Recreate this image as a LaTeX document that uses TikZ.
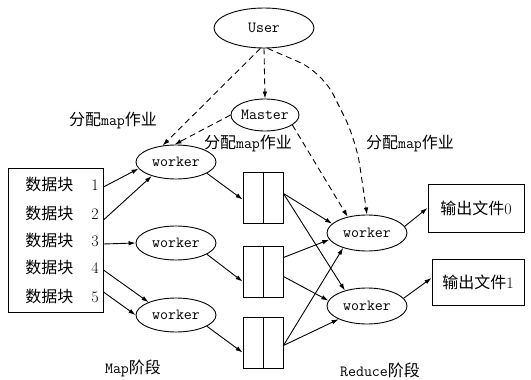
\documentclass[tikz,border=0pt]{standalone}
\usepackage{fontspec}
\newfontfamily\cjk{Noto Sans CJK SC}
\usetikzlibrary{shapes.geometric,arrows.meta,calc}
\newcommand{\zh}[1]{{\cjk\fontsize{16}{18}\selectfont #1}}

\begin{document}
\begin{tikzpicture}[x=1pt,y=-1pt,line width=0.9pt,
    >={Latex[length=7pt,width=4.5pt]},
    every node/.style={font=\fontsize{15.5}{18}\selectfont\ttfamily},
    proc/.style={draw,ellipse,inner sep=0pt,minimum width=80pt,minimum height=34pt},
    buf/.style={draw,rectangle,inner sep=0pt,minimum width=40pt,minimum height=51pt},
    outbox/.style={draw,rectangle,inner sep=0pt,minimum height=48pt},
    job/.style={dash pattern=on 6pt off 4pt,->}]
        \useasboundingbox (0,0) rectangle (531,380);
        % user and master
        \node[draw,ellipse,inner sep=0pt,minimum width=100pt,minimum height=40pt] (user) at (264,28) {User};
        \node[draw,ellipse,inner sep=0pt,minimum width=68pt,minimum height=32pt] (master) at (265,115) {Master};
        % input splits
        \node[draw,inner sep=0pt,minimum width=95pt,minimum height=144pt] (dbox) at (55.5,240) {};
        \node[anchor=west,inner sep=0pt] (d1) at (25,184) {\zh{数据块}\hspace{18pt}{\rmfamily\fontsize{16}{18}\selectfont 1}};
        \node[anchor=west,inner sep=0pt] (d2) at (25,213) {\zh{数据块}\hspace{18pt}{\rmfamily\fontsize{16}{18}\selectfont 2}};
        \node[anchor=west,inner sep=0pt] (d3) at (25,240) {\zh{数据块}\hspace{18pt}{\rmfamily\fontsize{16}{18}\selectfont 3}};
        \node[anchor=west,inner sep=0pt] (d4) at (25,267) {\zh{数据块}\hspace{18pt}{\rmfamily\fontsize{16}{18}\selectfont 4}};
        \node[anchor=west,inner sep=0pt] (d5) at (25,296) {\zh{数据块}\hspace{18pt}{\rmfamily\fontsize{16}{18}\selectfont 5}};
        % map workers
        \node[proc] (w1) at (176,162) {worker};
        \node[proc] (w2) at (176,243) {worker};
        \node[proc] (w3) at (176,315) {worker};
        % intermediate files
        \node[buf] (b1) at (263,197.5) {};
        \node[buf] (b2) at (263,271.5) {};
        \node[buf] (b3) at (263,342.5) {};
        \draw (b1.north) -- (b1.south);
        \draw (b2.north) -- (b2.south);
        \draw (b3.north) -- (b3.south);
        % reduce workers and output
        \node[proc,minimum height=36pt] (r1) at (367,233) {worker};
        \node[proc,minimum height=36pt] (r2) at (367,306) {worker};
        \node[outbox,minimum width=96pt] (o0) at (476,208) {\zh{输出文件}{\rmfamily\fontsize{16}{18}\selectfont 0}};
        \node[outbox,minimum width=92pt,minimum height=46pt] (o1) at (478,282) {\zh{输出文件}{\rmfamily\fontsize{16}{18}\selectfont 1}};
        % labels
        \node (l1) at (113,121) {\zh{分配}map\zh{作业}};
        \node (l2) at (248,144) {\zh{分配}map\zh{作业}};
        \node (l3) at (410,144) {\zh{分配}map\zh{作业}};
        \node (mapph) at (133,368) {Map\zh{阶段}};
        \node (redph) at (380,370) {Reduce\zh{阶段}};
        % job assignment
        \draw[job] (user.-100) -- (w1.129);
        \draw[job] (user.south) -- (master.north);
        \draw[job] (master.west) -- (w1.95);
        \draw[job] (master.-20) -- (r1.140);
        \draw[job,rounded corners=25pt] (user.-80) -- (322,72) -- (356,140) -- (r1.north);
        % map phase
        \draw[->] ($(dbox.east |- d1)+(0,3)$) -- (w1.190);
        \draw[->] ($(dbox.east |- d2)+(0,7)$) -- (w1.210);
        \draw[->] ($(dbox.east |- d3)+(0,4)$) -- (w2.west);
        \draw[->] ($(dbox.east |- d4)+(0,3)$) -- (w3.155);
        \draw[->] ($(dbox.east |- d5)+(0,-4)$) -- (w3.west);
        \draw[->] (w1.-20) -- ([yshift=-2pt]b1.west);
        \draw[->] (w2.-20) -- ([yshift=-10pt]b2.west);
        \draw[->] (w3.-20) -- ([yshift=-10pt]b3.west);
        % reduce phase
        \draw[->] ([yshift=4pt]b1.east) -- (r1.165);
        \draw[->] ([yshift=4pt]b1.east) -- (r2.145);
        \draw[->] ([yshift=14pt]b2.east) -- (r1.190);
        \draw[->] ([yshift=-5pt]b2.east) -- (r2.172);
        \draw[->] ([yshift=-3pt]b3.east) -- (r1.212);
        \draw[->] ([yshift=-3pt]b3.east) -- (r2.205);
        \draw[->] (r1.10) -- (o0.west);
        \draw[->] (r2.12) -- ([yshift=4pt]o1.west);
\end{tikzpicture}
\end{document}
